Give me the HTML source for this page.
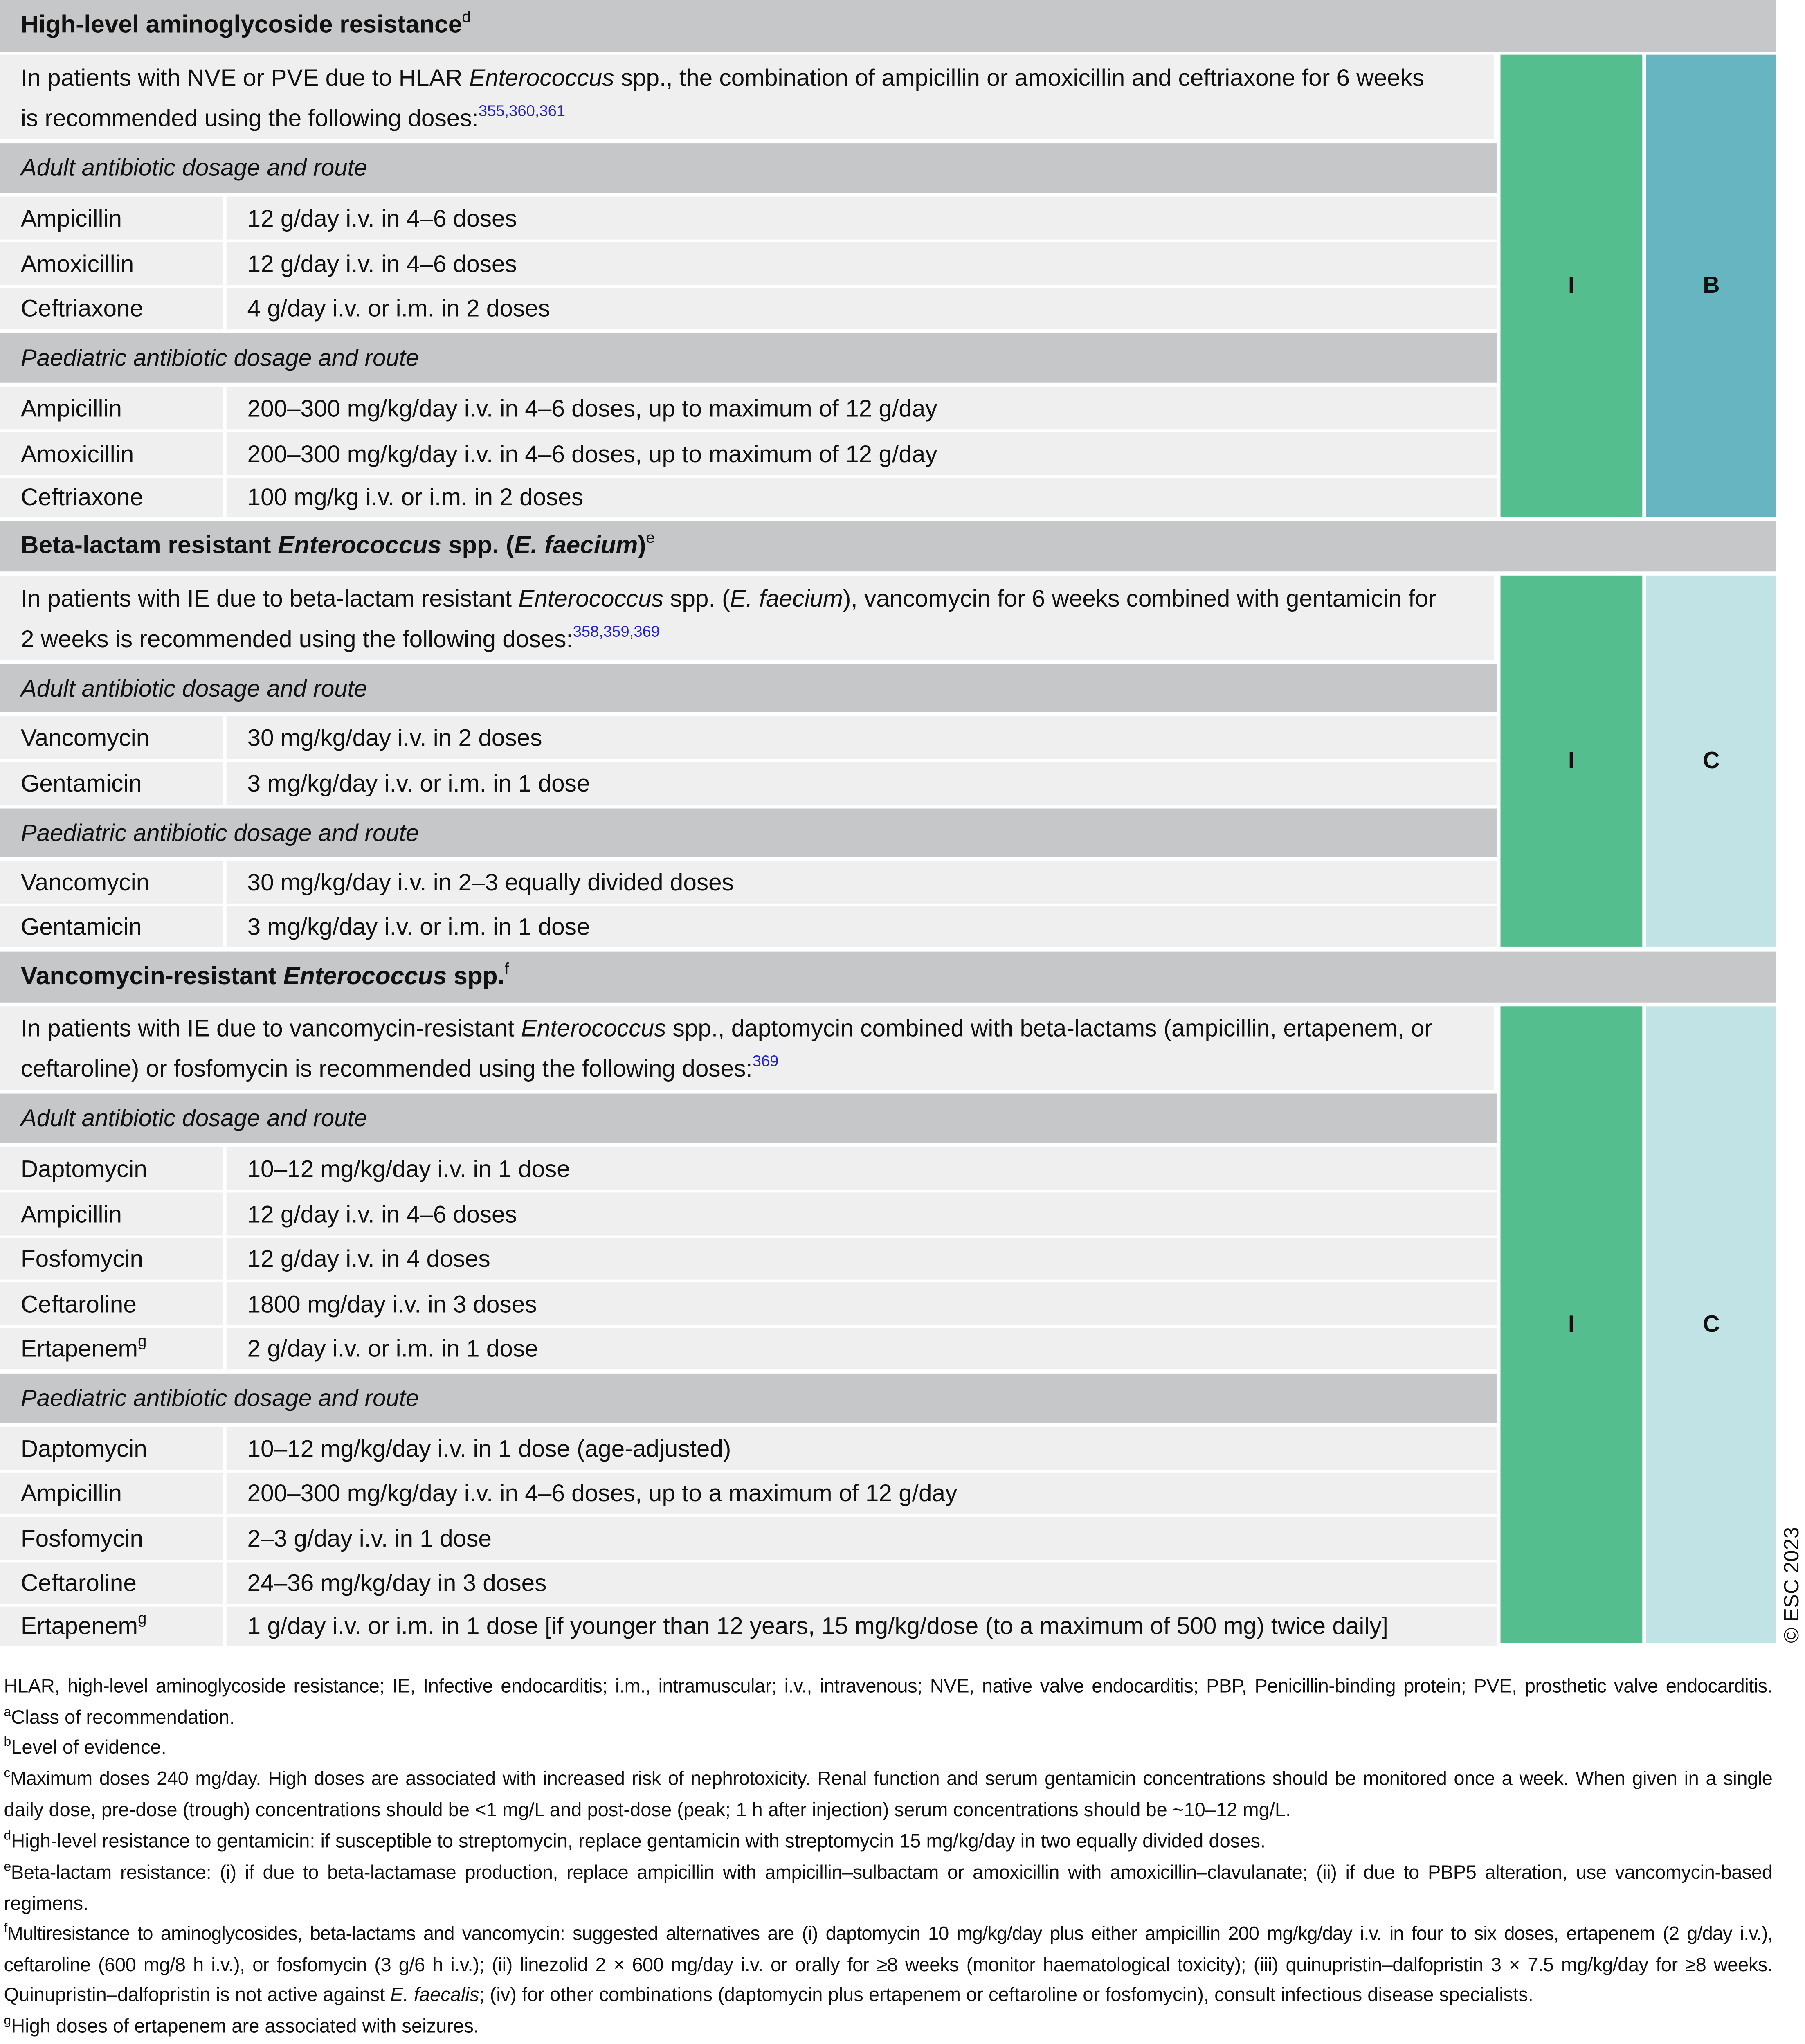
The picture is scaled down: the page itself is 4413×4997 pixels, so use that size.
<!DOCTYPE html>
<html><head><meta charset="utf-8">
<style>
html,body{margin:0;padding:0;background:#fff;}
body{width:4413px;height:4997px;overflow:hidden;position:relative;}
#page{position:absolute;left:0;top:0;width:1387px;height:1570px;transform:scale(3.1817,3.1828);transform-origin:0 0;font-family:"Liberation Sans",sans-serif;color:#111;}
.b{position:absolute;box-sizing:border-box;display:flex;align-items:center;white-space:nowrap;}
.hd{background:#c6c7c9;left:0;width:1365px;font-weight:bold;font-size:19px;padding-left:16px;}
.sub{background:#c6c7c9;left:0;width:1150px;font-style:italic;font-size:18.3px;padding-left:16px;}
.intro{background:#efefef;left:0;width:1148px;font-size:18.4px;padding-left:16px;line-height:31px;align-items:center;}
.c1{background:#efefef;left:0;width:171px;font-size:18.4px;padding-left:16px;}
.c2{background:#efefef;left:174px;width:976px;font-size:18.4px;padding-left:16px;}
.g{background:#55be8f;left:1153px;width:109px;justify-content:center;font-weight:bold;font-size:18px;}
.lb{left:1265px;width:100px;justify-content:center;font-weight:bold;font-size:18px;}
sup{font-size:12px;vertical-align:8px;line-height:0;}
.ref{color:#2222cc;font-weight:normal;font-style:normal;}
.fn{position:absolute;left:3px;width:1359px;font-size:14.8px;white-space:nowrap;line-height:18px;}
.fn sup{font-size:10px;vertical-align:6px;}
.j{text-align:justify;text-align-last:justify;white-space:normal;letter-spacing:-0.15px;}
</style></head><body>
<div id="page">

<div class="b hd" style="top:0;height:40px"><span>High-level aminoglycoside resistance<sup style="font-weight:normal">d</sup></span></div>
<div class="b intro" style="top:42px;height:65px"><div>In patients with NVE or PVE due to HLAR <i>Enterococcus</i> spp., the combination of ampicillin or amoxicillin and ceftriaxone for 6 weeks<br>is recommended using the following doses:<sup class="ref">355,360,361</sup></div></div>
<div class="b sub" style="top:110px;height:38px">Adult antibiotic dosage and route</div>
<div class="b c1" style="top:151px;height:33px">Ampicillin</div>
<div class="b c2" style="top:151px;height:33px">12 g/day i.v. in 4–6 doses</div>
<div class="b c1" style="top:186px;height:33px">Amoxicillin</div>
<div class="b c2" style="top:186px;height:33px">12 g/day i.v. in 4–6 doses</div>
<div class="b c1" style="top:221px;height:32px">Ceftriaxone</div>
<div class="b c2" style="top:221px;height:32px">4 g/day i.v. or i.m. in 2 doses</div>
<div class="b sub" style="top:256px;height:38px">Paediatric antibiotic dosage and route</div>
<div class="b c1" style="top:297px;height:33px">Ampicillin</div>
<div class="b c2" style="top:297px;height:33px">200–300 mg/kg/day i.v. in 4–6 doses, up to maximum of 12 g/day</div>
<div class="b c1" style="top:332px;height:33px">Amoxicillin</div>
<div class="b c2" style="top:332px;height:33px">200–300 mg/kg/day i.v. in 4–6 doses, up to maximum of 12 g/day</div>
<div class="b c1" style="top:367px;height:30px">Ceftriaxone</div>
<div class="b c2" style="top:367px;height:30px">100 mg/kg i.v. or i.m. in 2 doses</div>
<div class="b g" style="top:42px;height:355px">I</div>
<div class="b lb" style="top:42px;height:355px;background:#68b5c2">B</div>

<div class="b hd" style="top:400px;height:39px"><span>Beta-lactam resistant <i>Enterococcus</i> spp. (<i>E. faecium</i>)<sup style="font-weight:normal">e</sup></span></div>
<div class="b intro" style="top:442px;height:65px"><div>In patients with IE due to beta-lactam resistant <i>Enterococcus</i> spp. (<i>E. faecium</i>), vancomycin for 6 weeks combined with gentamicin for<br>2 weeks is recommended using the following doses:<sup class="ref">358,359,369</sup></div></div>
<div class="b sub" style="top:510px;height:37px">Adult antibiotic dosage and route</div>
<div class="b c1" style="top:550px;height:33px">Vancomycin</div>
<div class="b c2" style="top:550px;height:33px">30 mg/kg/day i.v. in 2 doses</div>
<div class="b c1" style="top:585px;height:33px">Gentamicin</div>
<div class="b c2" style="top:585px;height:33px">3 mg/kg/day i.v. or i.m. in 1 dose</div>
<div class="b sub" style="top:621px;height:37px">Paediatric antibiotic dosage and route</div>
<div class="b c1" style="top:661px;height:33px">Vancomycin</div>
<div class="b c2" style="top:661px;height:33px">30 mg/kg/day i.v. in 2–3 equally divided doses</div>
<div class="b c1" style="top:696px;height:31px">Gentamicin</div>
<div class="b c2" style="top:696px;height:31px">3 mg/kg/day i.v. or i.m. in 1 dose</div>
<div class="b g" style="top:442px;height:285px">I</div>
<div class="b lb" style="top:442px;height:285px;background:#c2e3e6">C</div>

<div class="b hd" style="top:731px;height:39px"><span>Vancomycin-resistant <i>Enterococcus</i> spp.<sup style="font-weight:normal">f</sup></span></div>
<div class="b intro" style="top:773px;height:64px"><div>In patients with IE due to vancomycin-resistant <i>Enterococcus</i> spp., daptomycin combined with beta-lactams (ampicillin, ertapenem, or<br>ceftaroline) or fosfomycin is recommended using the following doses:<sup class="ref">369</sup></div></div>
<div class="b sub" style="top:840px;height:38px">Adult antibiotic dosage and route</div>
<div class="b c1" style="top:881px;height:33px">Daptomycin</div>
<div class="b c2" style="top:881px;height:33px">10–12 mg/kg/day i.v. in 1 dose</div>
<div class="b c1" style="top:916px;height:33px">Ampicillin</div>
<div class="b c2" style="top:916px;height:33px">12 g/day i.v. in 4–6 doses</div>
<div class="b c1" style="top:951px;height:32px">Fosfomycin</div>
<div class="b c2" style="top:951px;height:32px">12 g/day i.v. in 4 doses</div>
<div class="b c1" style="top:985px;height:33px">Ceftaroline</div>
<div class="b c2" style="top:985px;height:33px">1800 mg/day i.v. in 3 doses</div>
<div class="b c1" style="top:1020px;height:32px"><span>Ertapenem<sup>g</sup></span></div>
<div class="b c2" style="top:1020px;height:32px">2 g/day i.v. or i.m. in 1 dose</div>
<div class="b sub" style="top:1055px;height:38px">Paediatric antibiotic dosage and route</div>
<div class="b c1" style="top:1096px;height:33px">Daptomycin</div>
<div class="b c2" style="top:1096px;height:33px">10–12 mg/kg/day i.v. in 1 dose (age-adjusted)</div>
<div class="b c1" style="top:1131px;height:32px">Ampicillin</div>
<div class="b c2" style="top:1131px;height:32px">200–300 mg/kg/day i.v. in 4–6 doses, up to a maximum of 12 g/day</div>
<div class="b c1" style="top:1165px;height:33px">Fosfomycin</div>
<div class="b c2" style="top:1165px;height:33px">2–3 g/day i.v. in 1 dose</div>
<div class="b c1" style="top:1200px;height:32px">Ceftaroline</div>
<div class="b c2" style="top:1200px;height:32px">24–36 mg/kg/day in 3 doses</div>
<div class="b c1" style="top:1234px;height:30px"><span>Ertapenem<sup>g</sup></span></div>
<div class="b c2" style="top:1234px;height:30px">1 g/day i.v. or i.m. in 1 dose [if younger than 12 years, 15 mg/kg/dose (to a maximum of 500 mg) twice daily]</div>
<div class="b g" style="top:773px;height:489px">I</div>
<div class="b lb" style="top:773px;height:489px;background:#c2e3e6">C</div>

<div style="position:absolute;left:1368px;top:1262px;transform:rotate(-90deg);transform-origin:0 0;font-size:16px;white-space:nowrap;line-height:20px">© ESC 2023</div>

<div class="fn j" style="top:1287px">HLAR, high-level aminoglycoside resistance; IE, Infective endocarditis; i.m., intramuscular; i.v., intravenous; NVE, native valve endocarditis; PBP, Penicillin-binding protein; PVE, prosthetic valve endocarditis.</div>
<div class="fn" style="top:1311px"><sup>a</sup>Class of recommendation.</div>
<div class="fn" style="top:1334px"><sup>b</sup>Level of evidence.</div>
<div class="fn j" style="top:1358px"><sup>c</sup>Maximum doses 240 mg/day. High doses are associated with increased risk of nephrotoxicity. Renal function and serum gentamicin concentrations should be monitored once a week. When given in a single</div>
<div class="fn" style="top:1382px">daily dose, pre-dose (trough) concentrations should be &lt;1 mg/L and post-dose (peak; 1 h after injection) serum concentrations should be ~10–12 mg/L.</div>
<div class="fn" style="top:1406px"><sup>d</sup>High-level resistance to gentamicin: if susceptible to streptomycin, replace gentamicin with streptomycin 15 mg/kg/day in two equally divided doses.</div>
<div class="fn j" style="top:1430px"><sup>e</sup>Beta-lactam resistance: (i) if due to beta-lactamase production, replace ampicillin with ampicillin–sulbactam or amoxicillin with amoxicillin–clavulanate; (ii) if due to PBP5 alteration, use vancomycin-based</div>
<div class="fn" style="top:1454px">regimens.</div>
<div class="fn j" style="top:1477px;letter-spacing:-0.3px"><sup>f</sup>Multiresistance to aminoglycosides, beta-lactams and vancomycin: suggested alternatives are (i) daptomycin 10 mg/kg/day plus either ampicillin 200 mg/kg/day i.v. in four to six doses, ertapenem (2 g/day i.v.),</div>
<div class="fn j" style="top:1501px">ceftaroline (600 mg/8 h i.v.), or fosfomycin (3 g/6 h i.v.); (ii) linezolid 2 × 600 mg/day i.v. or orally for ≥8 weeks (monitor haematological toxicity); (iii) quinupristin–dalfopristin 3 × 7.5 mg/kg/day for ≥8 weeks.</div>
<div class="fn" style="top:1524px">Quinupristin–dalfopristin is not active against <i>E. faecalis</i>; (iv) for other combinations (daptomycin plus ertapenem or ceftaroline or fosfomycin), consult infectious disease specialists.</div>
<div class="fn" style="top:1548px"><sup>g</sup>High doses of ertapenem are associated with seizures.</div>
</div>
</body></html>
